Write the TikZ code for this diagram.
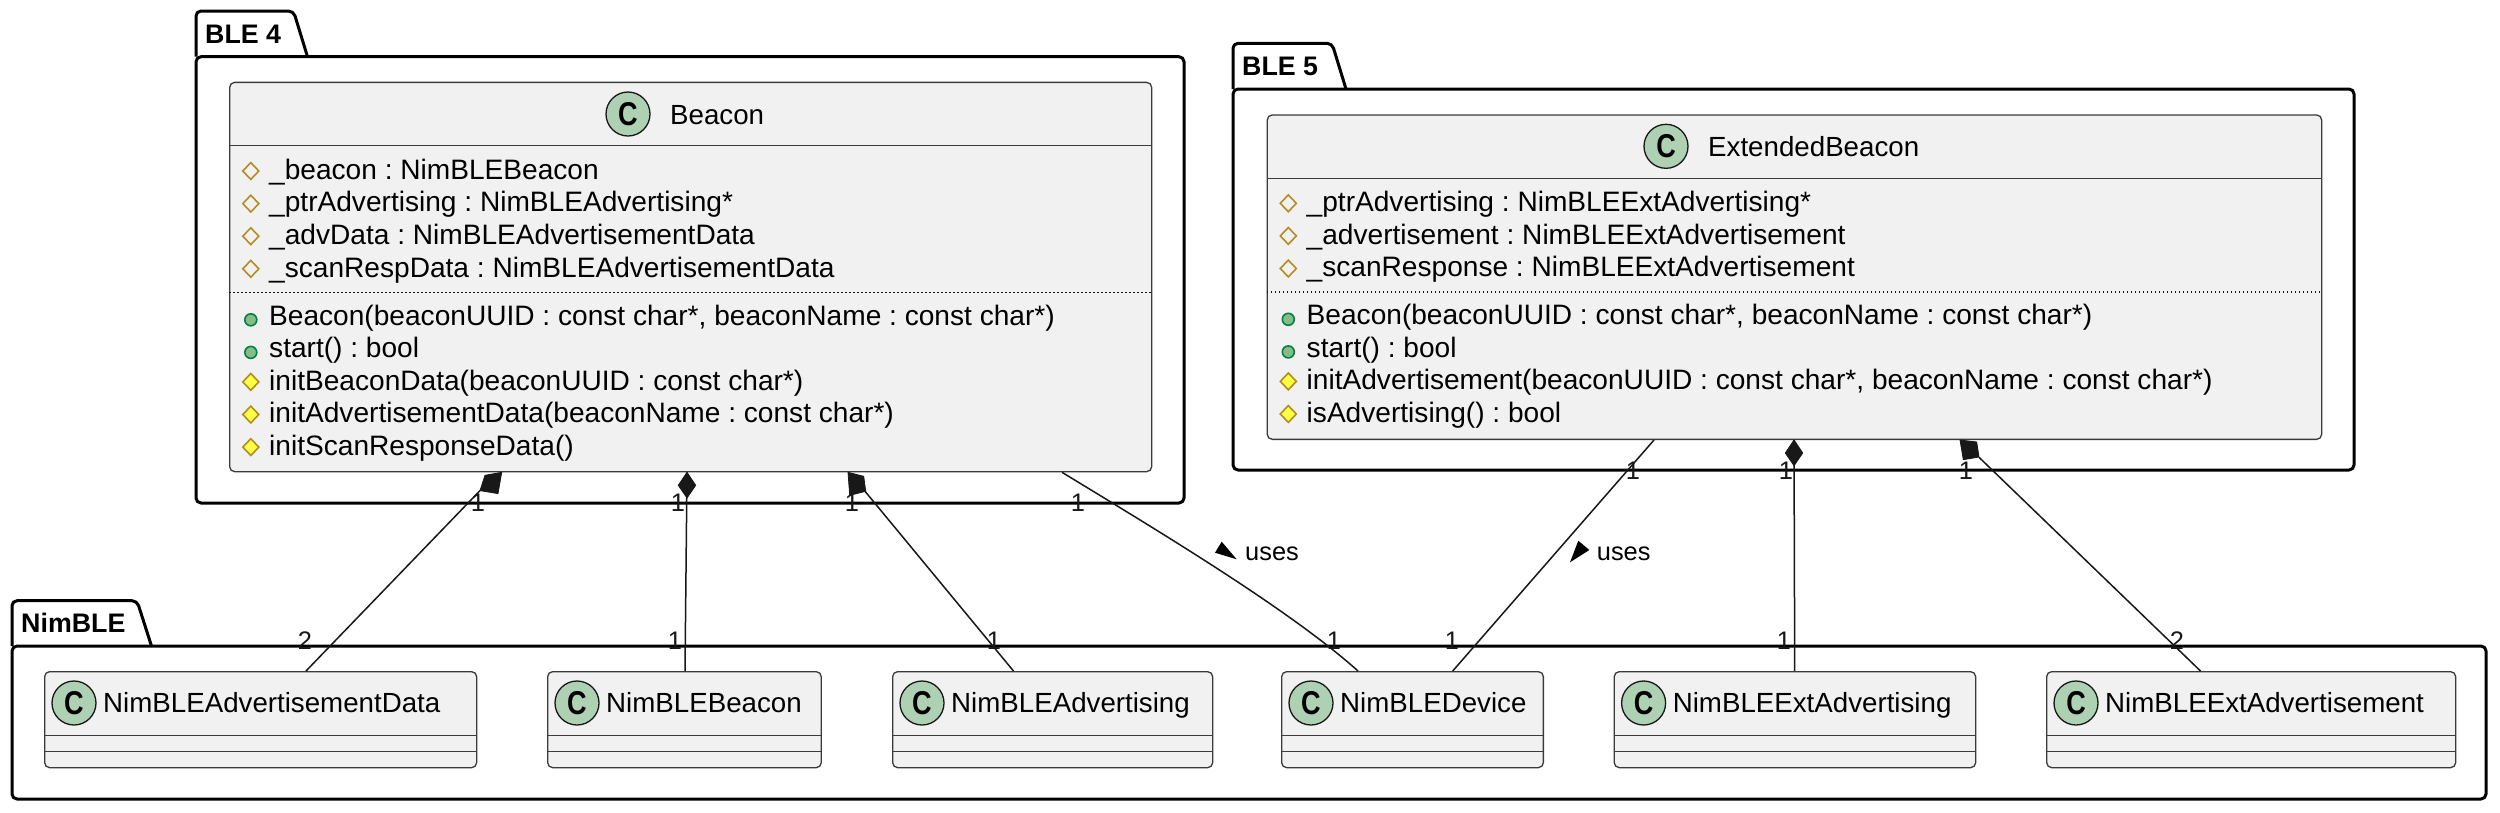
\documentclass[tikz,border=0pt]{standalone}
\usepackage{graphicx}
\usepackage{fontspec}
\setmainfont{Liberation Sans}
\definecolor{ln}{HTML}{181818}
\definecolor{cls}{HTML}{F1F1F1}
\definecolor{spot}{HTML}{ADD1B2}
\definecolor{fldc}{HTML}{B38D22}
\definecolor{mthf}{HTML}{FFFF44}
\definecolor{pubc}{HTML}{038048}
\definecolor{pubf}{HTML}{84BE84}
\newcommand{\fsMember}{\fontsize{28.1pt}{33pt}\selectfont\frenchspacing}
\newcommand{\fsName}{\fontsize{27.7pt}{33pt}\selectfont\frenchspacing}
\newcommand{\fsLink}{\fontsize{25.4pt}{30pt}\selectfont}
\newcommand{\fsPkg}{\fontsize{26.8pt}{32pt}\selectfont\bfseries}
\newcommand{\fsSpot}{\fontsize{33pt}{34pt}\selectfont\bfseries}
\newcommand{\spotC}{\scalebox{0.82}[1]{C}}
\tikzset{
  x=1pt,y=1pt,
  pkgline/.style={draw=black,line width=3pt,line join=round},
  pkgtitle/.style={anchor=base west,inner sep=0pt,font=\fsPkg,text=black},
  classbox/.style={draw=ln!85!white,line width=1.3pt,fill=cls,rounded corners=5pt,anchor=north west,inner sep=0pt},
  classrule/.style={draw=ln!85!white,line width=1.2pt},
  classdots/.style={draw=ln,line width=1.2pt,dash pattern=on 1.6pt off 2.4pt},
  spotc/.style={circle,draw=ln,line width=1.3pt,fill=spot,minimum size=44pt,inner sep=0pt,font=\fsSpot,text=black},
  txt/.style={anchor=base west,inner sep=0pt,font=\fsMember,text=black},
  nametxt/.style={anchor=base west,inner sep=0pt,font=\fsName,text=black},
  linktxt/.style={anchor=base,inner sep=0pt,font=\fsLink,text=ln},
  usestxt/.style={anchor=base west,inner sep=0pt,font=\fsLink,text=black},
  link/.style={draw=ln,line width=1.5pt},
  compo/.style={draw=ln,fill=ln,line width=.8pt,line join=miter},
  tri/.style={fill=black},
}
\newcommand{\fld}[4]{% name, x text, baseline, text
  \path[draw=fldc,line width=1.6pt,line join=miter] ({#2-18.2},{-(#3-8.3)+8.4}) -- ++(8,-8.4) -- ++(-8,-8.4) -- ++(-8,8.4) -- cycle;
  \node[txt] (#1) at (#2,-#3) {#4};}
\newcommand{\mthprot}[4]{%
  \path[draw=fldc,fill=mthf,line width=1.6pt,line join=miter] ({#2-18.2},{-(#3-8.3)+8.4}) -- ++(8,-8.4) -- ++(-8,-8.4) -- ++(-8,8.4) -- cycle;
  \node[txt] (#1) at (#2,-#3) {#4};}
\newcommand{\mthpub}[4]{%
  \path[draw=pubc,fill=pubf,line width=1.6pt] ({#2-18.2},{-(#3-5.2)}) circle[radius=6pt];
  \node[txt] (#1) at (#2,-#3) {#4};}
% small class: name, left, right, text
\newcommand{\smallclass}[4]{%
  \node[classbox,minimum width={#3-#2},minimum height=96pt] (#1) at (#2,-671) {};
  \draw[classrule] ([yshift=-64.3pt]#1.north west) -- ([yshift=-64.3pt]#1.north east);
  \draw[classrule] ([yshift=-80.3pt]#1.north west) -- ([yshift=-80.3pt]#1.north east);
  \node[spotc] (#1spot) at ({#2+30},-703) {\spotC};
  \node[nametxt] (#1name) at ({#2+59},-712.7) {#4};}
\begin{document}
\begin{tikzpicture}
\useasboundingbox (0,0) rectangle (2500,-812);
\fill[white] (0,0) rectangle (2500,-812);
% packages
\draw[pkgline,rounded corners=5pt] (196,-56.7) -- (196,-11) -- (293.5,-11) -- (307.5,-56.7);
\draw[pkgline,rounded corners=5pt] (196,-56.7) -- (1184,-56.7) -- (1184,-503) -- (196,-503) -- cycle;
\node[pkgtitle] (ble4) at (205,-43) {BLE 4};
\draw[pkgline,rounded corners=5pt] (1233,-89) -- (1233,-43.3) -- (1332,-43.3) -- (1346,-89);
\draw[pkgline,rounded corners=5pt] (1233,-89) -- (2354,-89) -- (2354,-470) -- (1233,-470) -- cycle;
\node[pkgtitle] (ble5) at (1242,-75.3) {BLE 5};
\draw[pkgline,rounded corners=5pt] (12,-646) -- (12,-600.7) -- (137,-600.7) -- (151.5,-646);
\draw[pkgline,rounded corners=5pt] (12,-646) -- (2486,-646) -- (2486,-799) -- (12,-799) -- cycle;
\node[pkgtitle] (nimble) at (21,-632.5) {NimBLE};
% Beacon
\node[classbox,minimum width=922pt,minimum height=389.3pt] (Beacon) at (229,-81.7) {};
\draw[classrule] ([yshift=-64pt]Beacon.north west) -- ([yshift=-64pt]Beacon.north east);
\draw[classdots] ([yshift=-210.6pt]Beacon.north west) -- ([yshift=-210.6pt]Beacon.north east);
\node[spotc] (Bspot) at (628,-114) {\spotC};
\node[nametxt] (Bname) at (670,-124) {Beacon};
\fld{b1}{269}{179.3}{\_beacon : NimBLEBeacon}
\fld{b2}{269}{211.9}{\_ptrAdvertising : NimBLEAdvertising*}
\fld{b3}{269}{244.5}{\_advData : NimBLEAdvertisementData}
\fld{b4}{269}{277.1}{\_scanRespData : NimBLEAdvertisementData}
\mthpub{b5}{269}{325}{Beacon(beaconUUID : const char*, beaconName : const char*)}
\mthpub{b6}{269}{357.6}{start() : bool}
\mthprot{b7}{269}{390.2}{initBeaconData(beaconUUID : const char*)}
\mthprot{b8}{269}{422.8}{initAdvertisementData(beaconName : const char*)}
\mthprot{b9}{269}{455.4}{initScanResponseData()}
% ExtendedBeacon
\node[classbox,minimum width=1054.4pt,minimum height=324.4pt] (Ext) at (1266.6,-114.3) {};
\draw[classrule] ([yshift=-64pt]Ext.north west) -- ([yshift=-64pt]Ext.north east);
\draw[classdots] ([yshift=-177.7pt]Ext.north west) -- ([yshift=-177.7pt]Ext.north east);
\node[spotc] (Espot) at (1666,-146.3) {\spotC};
\node[nametxt] (Ename) at (1708,-156) {ExtendedBeacon};
\fld{e1}{1306.5}{211.6}{\_ptrAdvertising : NimBLEExtAdvertising*}
\fld{e2}{1306.5}{244.2}{\_advertisement : NimBLEExtAdvertisement}
\fld{e3}{1306.5}{276.8}{\_scanResponse : NimBLEExtAdvertisement}
\mthpub{e4}{1306.5}{324.5}{Beacon(beaconUUID : const char*, beaconName : const char*)}
\mthpub{e5}{1306.5}{357.1}{start() : bool}
\mthprot{e6}{1306.5}{389.7}{initAdvertisement(beaconUUID : const char*, beaconName : const char*)}
\mthprot{e7}{1306.5}{422.3}{isAdvertising() : bool}
% NimBLE classes
\smallclass{AdvData}{44}{476}{NimBLEAdvertisementData}
\smallclass{NBeacon}{547}{820.6}{NimBLEBeacon}
\smallclass{NAdv}{892}{1212}{NimBLEAdvertising}
\smallclass{NDev}{1281}{1542.7}{NimBLEDevice}
\smallclass{NExtAdv}{1613.6}{1975}{NimBLEExtAdvertising}
\smallclass{NExtAdvt}{2046}{2455}{NimBLEExtAdvertisement}
% connectors (class to class)
\draw[link] ([xshift=251pt,yshift=-18.3pt]Beacon.south west) -- ([xshift=262pt]AdvData.north west);
\path[compo] ([xshift=272.7pt]Beacon.south west) -- ++(-16.7,-3) -- ++(-5,-15.3) -- ++(18,-3) -- cycle;
\draw[link] ([xshift=458pt]Beacon.south west) -- ([xshift=138pt]NBeacon.north west);
\path[compo] ([xshift=458pt]Beacon.south west) -- ++(-8.7,-13) -- ++(8.7,-12.7) -- ++(8.7,12.7) -- cycle;
\draw[link] ([xshift=636pt,yshift=-19pt]Beacon.south west) -- ([xshift=121.5pt]NAdv.north west);
\path[compo] ([xshift=619pt]Beacon.south west) -- ++(15.7,-4) -- ++(2,-15) -- ++(-16,-4) -- cycle;
\draw[link] ([xshift=833pt]Beacon.south west) .. controls (1160,-532) and (1290,-610) .. ([xshift=77pt]NDev.north west);
\draw[link] ([xshift=387.4pt]Ext.south west) -- ([xshift=171.7pt]NDev.north west);
\draw[link] ([xshift=527.4pt]Ext.south west) -- ([xshift=181.1pt]NExtAdv.north west);
\path[compo] ([xshift=527.4pt]Ext.south west) -- ++(-8.7,-13) -- ++(8.7,-12.7) -- ++(8.7,12.7) -- cycle;
\draw[link] ([xshift=712.4pt,yshift=-17.3pt]Ext.south west) -- ([xshift=154.5pt]NExtAdvt.north west);
\path[compo] ([xshift=693.4pt]Ext.south west) -- ++(16.7,-2) -- ++(2.3,-15) -- ++(-15.7,-2.7) -- cycle;
% multiplicities
\foreach \nm/\tx/\ty/\tt in {m1/478/511/1,m2/678/511/1,m3/852/511/1,m4/1078/511/1,m5/1633/479/1,m6/1786/479/1,m7/1966/479/1,m8/305/649/2,m9/675/649/1,m10/994/649/1,m11/1334/649/1,m12/1452/649/1,m13/1784/649/1,m14/2177/649/2}{
  \node[linktxt] (\nm) at (\tx,-\ty) {\tt};
}
% uses labels
\path[tri] (1221.7,-541.7) -- (1215,-552.7) -- (1236.7,-559.3) -- cycle;
\node[usestxt] (u1) at (1245,-560.7) {uses};
\path[tri] (1578.3,-540.7) -- (1589.3,-550) -- (1570,-562.3) -- cycle;
\node[usestxt] (u2) at (1596.7,-560.7) {uses};
\end{tikzpicture}
\end{document}
